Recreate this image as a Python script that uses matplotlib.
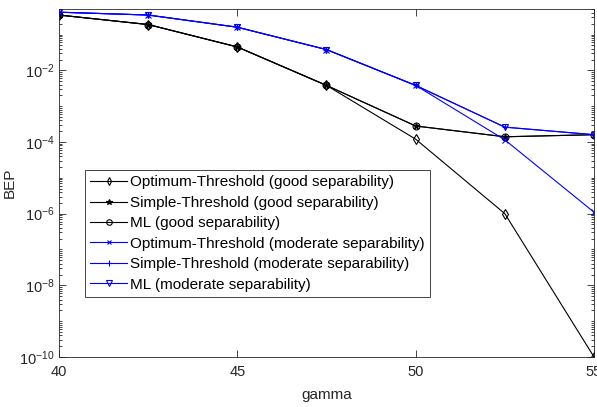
import matplotlib
matplotlib.use("Agg")
import matplotlib.pyplot as plt
import matplotlib.ticker as ticker
import numpy as np

# gamma values
gamma = [40, 42.5, 45, 47.5, 50, 52.5, 55]

# good separability
opt_good = [0.35, 0.19, 0.045, 0.0038, 1.2e-4, 1.0e-6, 1.0e-10]
simple_good = [0.35, 0.19, 0.045, 0.0038, 2.8e-4, 1.4e-4, 1.6e-4]
ml_good = [0.35, 0.19, 0.045, 0.0038, 2.8e-4, 1.4e-4, 1.6e-4]

# moderate separability
opt_mod = [0.42, 0.35, 0.16, 0.038, 0.0038, 1.15e-4, 1.1e-6]
simple_mod = [0.42, 0.35, 0.16, 0.038, 0.0038, 2.6e-4, 1.6e-4]
ml_mod = [0.42, 0.35, 0.16, 0.038, 0.0038, 2.6e-4, 1.6e-4]

labels = [
    "Optimum-Threshold (good separability)",
    "Simple-Threshold (good separability)",
    "ML (good separability)",
    "Optimum-Threshold (moderate separability)",
    "Simple-Threshold (moderate separability)",
    "ML (moderate separability)",
]

plt.rcParams["font.family"] = ["Liberation Sans", "DejaVu Sans"]
plt.rcParams["mathtext.default"] = "regular"

fig = plt.figure(figsize=(5.97, 4.07), dpi=100)
ax = fig.add_axes([0.0988, 0.1229, 0.8962, 0.8538])

axis_col = "#262626"
lw = 0.8

ax.plot(gamma, opt_good, color="k", lw=lw, marker="d", ms=5, mfc="none", mew=0.8, label=labels[0])
ax.plot(gamma, simple_good, color="k", lw=lw, marker="*", ms=5, mew=0.8, label=labels[1])
ax.plot(gamma, ml_good, color="k", lw=lw, marker="o", ms=5, mfc="none", mew=0.8, label=labels[2])
ax.plot(gamma, opt_mod, color="b", lw=lw, marker="x", ms=4, mew=0.8, label=labels[3])
ax.plot(gamma, simple_mod, color="b", lw=lw, marker="+", ms=5, mew=0.8, label=labels[4])
ax.plot(gamma, ml_mod, color="b", lw=lw, marker="v", ms=5, mfc="none", mew=0.8, label=labels[5])

ax.set_yscale("log")
ax.set_xlim(40, 55)
ax.set_ylim(1e-10, 0.5)
ax.set_xticks([40, 45, 50, 55])
ax.yaxis.set_major_locator(ticker.FixedLocator([1e-10, 1e-8, 1e-6, 1e-4, 1e-2]))
ax.yaxis.set_minor_locator(ticker.LogLocator(base=10, subs=np.arange(1, 10), numticks=50))
ax.yaxis.set_minor_formatter(ticker.NullFormatter())

ax.tick_params(which="both", direction="in", top=True, right=True,
               colors=axis_col, labelsize=10.5, width=0.6)
ax.tick_params(which="major", length=5)
ax.tick_params(which="minor", length=2.5)
ax.tick_params(axis="x", which="minor", bottom=False, top=False)
ax.tick_params(axis="x", pad=6)
ax.tick_params(axis="y", pad=3)
for s in ax.spines.values():
    s.set_color(axis_col)
    s.set_linewidth(0.6)

ax.set_xlabel("gamma", fontsize=11, color=axis_col, labelpad=6)
ax.set_ylabel("BEP", fontsize=11, color=axis_col, labelpad=2)

leg = ax.legend(loc="lower left", bbox_to_anchor=(0.0486, 0.173), fontsize=11,
                frameon=True, fancybox=False, edgecolor=axis_col, framealpha=1,
                handlelength=2.4, handletextpad=0.2, labelspacing=0.42,
                borderpad=0.35, borderaxespad=0, markerscale=0.8)
leg.get_frame().set_linewidth(0.6)

fig.savefig("out.png", dpi=100)
